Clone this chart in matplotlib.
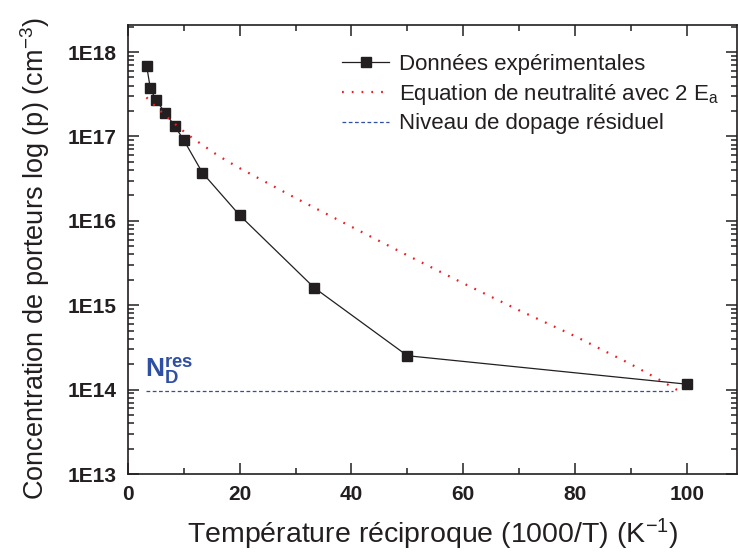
import matplotlib
matplotlib.use("Agg")
import matplotlib.pyplot as plt
from matplotlib.ticker import FuncFormatter, MultipleLocator, LogLocator, NullFormatter
import numpy as np

plt.rcParams["font.family"] = ["Liberation Sans", "DejaVu Sans"]
plt.rcParams["mathtext.fontset"] = "custom"
plt.rcParams["mathtext.rm"] = "Liberation Sans"
plt.rcParams["mathtext.bf"] = "Liberation Sans:bold"
plt.rcParams["mathtext.it"] = "Liberation Sans:italic"

INK = "#231f20"
RED = "#ee1c24"
BLUE = "#2e4fa3"

# experimental data: 1000/T (K^-1) and hole concentration (cm^-3)
x_exp = [3.33, 4.0, 5.0, 6.67, 8.33, 10.0, 13.33, 20.0, 33.33, 50.0, 100.0]
p_exp = [6.9e17, 3.7e17, 2.7e17, 1.9e17, 1.34e17, 9.0e16, 3.7e16, 1.16e16,
         1.61e15, 2.52e14, 1.16e14]

# neutrality equation with two acceptor levels
x_fit = [3.3, 5, 7, 9, 10.5, 12, 14, 16, 18, 20, 30, 40, 50, 60, 70, 80, 90, 95, 99]
p_fit = [2.9e17, 2.24e17, 1.7e17, 1.3e17, 1.07e17, 9.1e16, 7.4e16, 6.0e16, 5.0e16,
         4.2e16, 1.86e16, 8.5e15, 3.9e15, 1.82e15, 8.7e14, 4.3e14, 2.0e14, 1.32e14,
         9.3e13]

# residual doping level
x_res = [3.3, 97.5]
p_res = [9.5e13, 9.5e13]

fig = plt.figure(figsize=(7.38, 5.56), dpi=100)
ax = fig.add_axes([128 / 738, 1 - 474 / 556, 609 / 738, 449 / 556])

ax.plot(x_exp, p_exp, color=INK, lw=0.9, marker="s", ms=7.5, mfc=INK, mec=INK,
        label="Données expérimentales")
ax.plot(x_fit, p_fit, color=RED, lw=1.6, linestyle=(0, (0.8, 3.6)),
        label="Equation de neutralité avec 2 E$_\\mathregular{a}$")
ax.plot(x_res, p_res, color=BLUE, lw=0.9, linestyle=(0, (3, 2)),
        label="Niveau de dopage résiduel")

ax.set_yscale("log")
ax.set_xlim(0, 109)
ax.set_ylim(1e13, 2.09e18)

ax.xaxis.set_major_locator(MultipleLocator(20))
ax.xaxis.set_minor_locator(MultipleLocator(10))
ax.yaxis.set_major_locator(LogLocator(base=10, numticks=20))
ax.yaxis.set_minor_locator(LogLocator(base=10, subs=np.arange(2, 10), numticks=20))
ax.yaxis.set_minor_formatter(NullFormatter())
ax.yaxis.set_major_formatter(FuncFormatter(lambda v, pos: f"1E{int(round(np.log10(v)))}"))

ax.tick_params(which="both", direction="in", top=True, right=True, color=INK,
               width=1.1)
ax.tick_params(which="major", length=8, labelsize=15, pad=8)
ax.tick_params(which="minor", length=4)
for lab in ax.get_xticklabels() + ax.get_yticklabels():
    lab.set_fontweight("bold")
    lab.set_color(INK)
for sp in ax.spines.values():
    sp.set_linewidth(1.2)
    sp.set_color(INK)

ax.set_xlabel("Température réciproque (1000/T) (K$^{\\mathregular{-1}}$)", fontsize=20.5,
              color=INK)
ax.set_ylabel("Concentration de porteurs log (p) (cm$^{\\mathregular{-3}}$)", fontsize=19.5,
              color=INK)
ax.xaxis.set_label_coords(0.5, -0.095)
ax.yaxis.set_label_coords(-0.125, 0.48)

ax.text(3.0, 1.06e14, r"$\mathbf{N_D^{res}}$", color=BLUE, fontsize=19,
        ha="left", va="bottom")

leg = ax.legend(loc="upper right", bbox_to_anchor=(0.985, 0.955), frameon=False,
                fontsize=16, handlelength=2.1, handletextpad=0.45, labelspacing=0.3,
                borderaxespad=0.0, markerscale=0.95)
for t in leg.get_texts():
    t.set_color(INK)

fig.savefig("out.png", dpi=100)
